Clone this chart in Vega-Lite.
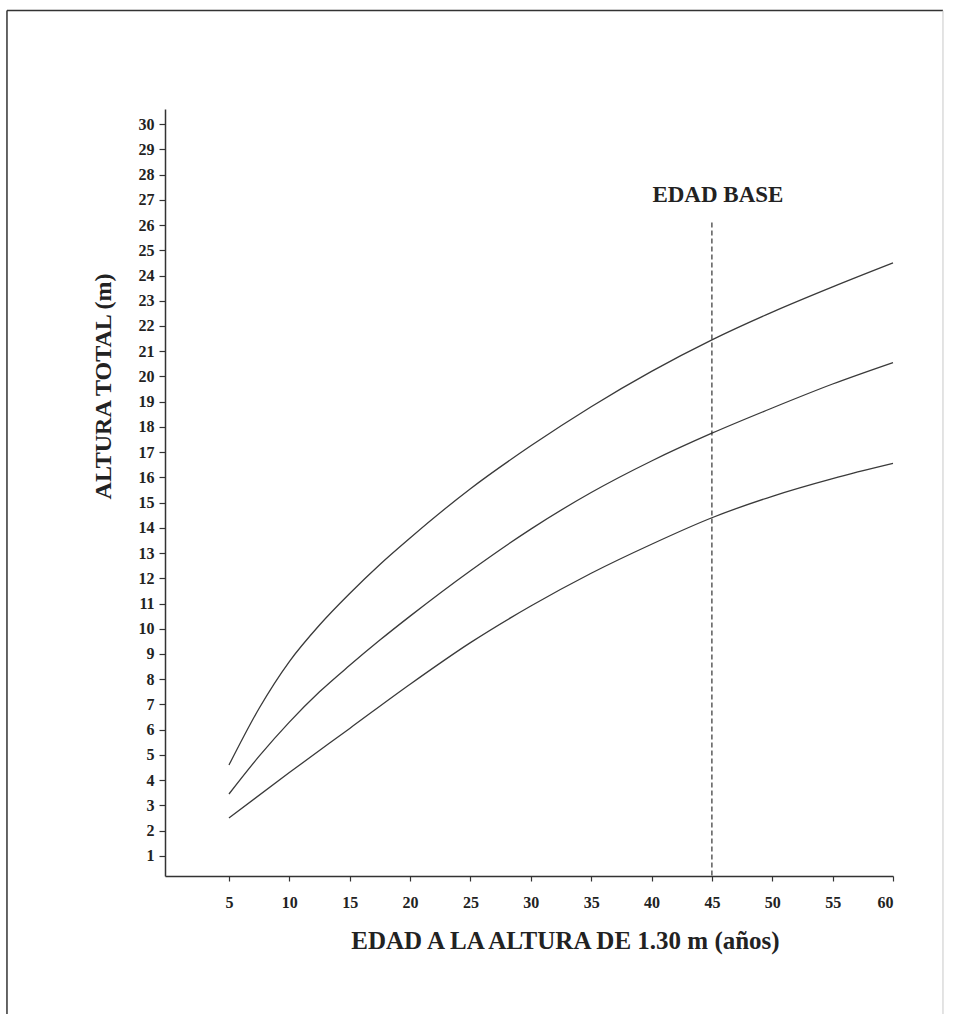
{
  "$schema": "https://vega.github.io/schema/vega-lite/v6.json",
  "width": 728,
  "height": 767,
  "autosize": {"type": "none"},
  "padding": {"left": 165, "top": 109, "right": 65, "bottom": 138},
  "background": "white",
  "config": {
    "view": {"stroke": null},
    "axis": {
      "grid": false,
      "domainColor": "#333333",
      "domainWidth": 1.5,
      "tickColor": "#333333",
      "tickWidth": 1.2,
      "labelFont": "Liberation Serif",
      "labelFontWeight": "bold",
      "labelFontSize": 16,
      "labelColor": "#222222",
      "labelOverlap": false,
      "titleFont": "Liberation Serif",
      "titleFontWeight": "bold",
      "titleColor": "#222222",
      "titleFontSize": 24
    }
  },
  "datasets": {
    "curvas": [
      {"edad": 5, "altura": 4.6, "curva": "superior"},
      {"edad": 7.5, "altura": 6.85, "curva": "superior"},
      {"edad": 10, "altura": 8.7, "curva": "superior"},
      {"edad": 12.5, "altura": 10.15, "curva": "superior"},
      {"edad": 15, "altura": 11.4, "curva": "superior"},
      {"edad": 17.5, "altura": 12.55, "curva": "superior"},
      {"edad": 20, "altura": 13.6, "curva": "superior"},
      {"edad": 25, "altura": 15.55, "curva": "superior"},
      {"edad": 30, "altura": 17.25, "curva": "superior"},
      {"edad": 35, "altura": 18.8, "curva": "superior"},
      {"edad": 40, "altura": 20.2, "curva": "superior"},
      {"edad": 45, "altura": 21.45, "curva": "superior"},
      {"edad": 50, "altura": 22.55, "curva": "superior"},
      {"edad": 55, "altura": 23.55, "curva": "superior"},
      {"edad": 60, "altura": 24.5, "curva": "superior"},
      {"edad": 5, "altura": 3.45, "curva": "media"},
      {"edad": 7.5, "altura": 4.95, "curva": "media"},
      {"edad": 10, "altura": 6.3, "curva": "media"},
      {"edad": 12.5, "altura": 7.5, "curva": "media"},
      {"edad": 15, "altura": 8.55, "curva": "media"},
      {"edad": 17.5, "altura": 9.55, "curva": "media"},
      {"edad": 20, "altura": 10.5, "curva": "media"},
      {"edad": 25, "altura": 12.3, "curva": "media"},
      {"edad": 30, "altura": 13.95, "curva": "media"},
      {"edad": 35, "altura": 15.4, "curva": "media"},
      {"edad": 40, "altura": 16.65, "curva": "media"},
      {"edad": 45, "altura": 17.75, "curva": "media"},
      {"edad": 50, "altura": 18.75, "curva": "media"},
      {"edad": 55, "altura": 19.7, "curva": "media"},
      {"edad": 60, "altura": 20.55, "curva": "media"},
      {"edad": 5, "altura": 2.5, "curva": "inferior"},
      {"edad": 10, "altura": 4.3, "curva": "inferior"},
      {"edad": 15, "altura": 6.05, "curva": "inferior"},
      {"edad": 20, "altura": 7.8, "curva": "inferior"},
      {"edad": 25, "altura": 9.45, "curva": "inferior"},
      {"edad": 30, "altura": 10.9, "curva": "inferior"},
      {"edad": 35, "altura": 12.2, "curva": "inferior"},
      {"edad": 40, "altura": 13.35, "curva": "inferior"},
      {"edad": 45, "altura": 14.4, "curva": "inferior"},
      {"edad": 50, "altura": 15.25, "curva": "inferior"},
      {"edad": 55, "altura": 15.95, "curva": "inferior"},
      {"edad": 60, "altura": 16.55, "curva": "inferior"}
    ],
    "base": [
      {"edad": 45, "altura": 26.1, "piso": 0.2, "etiqueta_y": 26.9, "etiqueta": "EDAD BASE"}
    ]
  },
  "layer": [
    {
      "data": {"name": "curvas"},
      "mark": {"type": "line", "interpolate": "monotone", "color": "#3a3a3a", "strokeWidth": 1.3},
      "encoding": {
        "x": {
          "field": "edad", "type": "quantitative",
          "scale": {"domain": [-0.3, 60], "nice": false, "zero": false},
          "axis": {
            "values": [5, 10, 15, 20, 25, 30, 35, 40, 45, 50, 55, 60],
            "tickCount": 20,
            "title": "EDAD A LA ALTURA DE 1.30 m (años)",
            "tickSize": 5,
            "labelPadding": 13,
            "titleFontSize": 25,
            "titleX": 400,
            "titleY": 72,
            "titleBaseline": "alphabetic",
            "titleAnchor": "middle",
            "titleAlign": "center"
          }
        },
        "y": {
          "field": "altura", "type": "quantitative",
          "scale": {"domain": [0.2, 30.6], "nice": false, "zero": false},
          "axis": {
            "values": [1,2,3,4,5,6,7,8,9,10,11,12,13,14,15,16,17,18,19,20,21,22,23,24,25,26,27,28,29,30],
            "tickCount": 40,
            "labelOverlap": false,
            "title": "ALTURA TOTAL (m)",
            "tickSize": 6,
            "labelPadding": 5,
            "titleX": -55,
            "titleY": 277,
            "titleAngle": -90,
            "titleBaseline": "alphabetic",
            "titleAlign": "center"
          }
        },
        "detail": {"field": "curva", "type": "nominal"}
      }
    },
    {
      "data": {"name": "base"},
      "mark": {"type": "rule", "strokeDash": [5, 3], "color": "#333333", "strokeWidth": 1.2},
      "encoding": {
        "x": {"field": "edad", "type": "quantitative"},
        "y": {"field": "altura", "type": "quantitative"},
        "y2": {"field": "piso"}
      }
    },
    {
      "data": {"name": "base"},
      "mark": {"type": "text", "font": "Liberation Serif", "fontWeight": "bold", "fontSize": 23, "color": "#222222", "align": "center", "baseline": "alphabetic", "dx": 6},
      "encoding": {
        "x": {"field": "edad", "type": "quantitative"},
        "y": {"field": "etiqueta_y", "type": "quantitative"},
        "text": {"field": "etiqueta"}
      }
    },
    {
      "data": {"values": [{}]},
      "mark": {"type": "rule", "color": "#333333", "strokeWidth": 1.5, "clip": false},
      "encoding": {
        "x": {"datum": -13.39},
        "y": {"datum": 34.5},
        "y2": {"datum": -6}
      }
    },
    {
      "data": {"values": [{}]},
      "mark": {"type": "rule", "color": "#333333", "strokeWidth": 1.5, "clip": false},
      "encoding": {
        "x": {"datum": -13.39},
        "x2": {"datum": 64.14},
        "y": {"datum": 34.5}
      }
    },
    {
      "data": {"values": [{}]},
      "mark": {"type": "rule", "color": "#c8c8c8", "strokeWidth": 1, "clip": false},
      "encoding": {
        "x": {"datum": 64.14},
        "y": {"datum": 34.5},
        "y2": {"datum": -6}
      }
    }
  ]
}
